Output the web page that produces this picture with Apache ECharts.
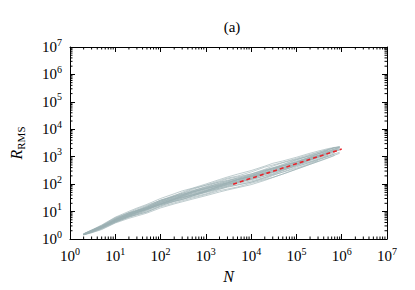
<!DOCTYPE html>
<html>
<head>
<meta charset="utf-8">
<script src="https://cdn.jsdelivr.net/npm/echarts@6/dist/echarts.min.js"></script>
<style>html,body{margin:0;padding:0;background:#fff;}#c{width:415px;height:290px;}</style>
</head>
<body>
<div id="c"></div>
<script>
// Step counts N (x) shared by all traces
const N = [2,3,5,10,20,30,50,100,200,300,500,1e3,2e3,3e3,5e3,1e4,2e4,3e4,5e4,1e5,2e5,3e5,5e5,7e5,9e5];
// R_RMS traces
const trace1 = [1.51,2.01,2.96,5.51,9.11,11.3,15.8,26,38.9,46.2,64,91.5,134,166,198,278,417,498,622,871,1220,1450,1845,2140,2311];
const trace2 = [1.45,1.81,2.42,4.07,6.22,7.64,9.83,15.0,20.7,24.9,31.1,41.6,57.9,66.3,79.2,108,147,175,233,354,528,680,923,1141,1334];
const trace3 = [1.48,1.95,2.82,4.79,7.21,9.55,13.2,22.0,30.2,40.8,54.8,78.9,107,123,145,183,245,287,350,534,813,1050,1450,1712,1956];
const trace4 = [1.49,1.87,2.58,5.03,8.35,10.7,13.6,20.0,27.4,32.0,40.2,58.1,84.6,107,139,200,306,393,525,787,1057,1250,1582,1934,2223];
const trace5 = [1.47,1.91,2.77,4.41,6.68,8.60,12.0,18.0,24.5,31.2,42.0,53.6,71.3,83.5,106,131,176,227,311,478,732,880,1120,1427];
const trace6 = [1.52,2.02,3.01,5.75,8.73,10.5,14.5,24.0,36.0,46.2,58.5,75.7,102,128,172,235,319,378,467,646,976,1250,1713];
const trace7 = [1.44,1.78,2.47,4.55,7.59,9.36,11.6,17.6,26.5,34.8,46.6,63.1,93.6,118,152,191,257,332,447,618,854,1000,1252,1553,1778];
const trace8 = [1.48,1.93,2.64,5.17,7.97,9.74,12.6,21.0,32.3,38.3,46.6,59.9,80.2,91.0,116,148,201,257,350,495,667,800,1028,1268];
const trace9 = [1.51,1.91,2.56,4.22,6.98,9.26,12.9,19.4,25.9,30.2,37.5,49.2,66.8,77.0,92.4,118,172,217,272,382,569,720];
const trace10 = [1.45,1.97,2.88,5.27,7.97,10.3,14.5,23.6,31.7,37.3,50.3,72.6,111,139,165,209,282,362,506,759,1138,1420,1819,2092,2276];
const trace11 = [1.48,1.85,2.53,4.31,7.13,9.36,12.1,18.4,27.4,35.5,43.4,56.8,78.4,98.4,125,174,265,317,389,534,748,950,1318,1617];
const trace12 = [1.49,1.99,2.69,4.89,8.35,11.0,14.1,22.0,34.0,43.3,52.6,68.1,98.0,112,129,165,225,272,370,562,878,1120,1516,1870,2134];
const trace13 = [1.47,1.83,2.69,4.65,6.83,8.21,10.6,16.4,23.0,27.7,36.6,51.7,71.3,87.7,112,157,225,287,381,562,797,950,1186];
const trace14 = [1.48,1.97,2.85,4.79,7.74,10.1,12.9,19.6,28.8,36.9,49.4,70.7,96.2,111,145,195,289,368,459,629,894,1120,1516,1775,1920];
const trace15 = [1.55,2.14,3.23,6.23,10.2,13.4,18.3,30,44.6,56.8,70.8,101,147,182,231,313,453,574,700,955,1341,1600,1977,2187,2311];
const trace16 = [1.41,1.68,2.21,3.83,5.69,6.88,8.82,13.6,19.0,22.7,28.3,37.9,51.7,61.0,73.9,95.7,137,175,233,348,528,660,896,1110];
const trace17 = [1.52,2.06,3.09,5.99,9.26,12.4,17.0,25.6,34.6,40.8,55.8,82.0,123,155,185,235,348,453,603,815,1098,1300,1648,1902,2169];
const trace18 = [1.44,1.72,2.29,3.98,6.53,7.64,9.58,16.0,24.2,27.7,33.8,44.2,64.2,81.3,95.0,118,159,205,280,422,634,800,1081];
const trace19 = [1.48,2.01,2.64,5.36,8.96,10.5,12.9,19.0,28.2,38.3,52.6,69.4,89.1,98.4,116,160,245,332,467,703,959,1100,1384,1585,1742];
const trace20 = [1.51,1.85,2.80,4.45,7.44,10.0,14.1,24,37.4,50.4,68.6,91.5,120,134,158,223,331,393,475,646,911,1080,1384];
const trace21 = [1.45,1.91,2.47,4.22,6.22,8.12,11.3,19,29.4,33.7,40.2,51.7,76.6,96.3,129,183,240,272,331,450,618,750,1028,1268,1458];
const trace22 = [1.49,2.02,2.96,5.17,7.74,9.17,12.6,21.6,29.4,32.7,39.3,56.8,87.3,112,148,209,306,356,408,551,772,980,1344,1664];
const trace23 = [1.42,1.76,2.56,4.89,8.20,11.0,15.4,26,36,41.9,51.2,66.3,89.1,109,143,191,257,302,408,629,976,1280,1779,2187];
const trace24 = [1.54,2.10,2.82,4.60,6.83,8.88,12.3,18,23.6,27.7,36.6,54.3,82.0,103,119,146,196,236,319,495,772,1000,1384];
const traces = [trace1,trace2,trace3,trace4,trace5,trace6,trace7,trace8,trace9,trace10,trace11,trace12,
  trace13,trace14,trace15,trace16,trace17,trace18,trace19,trace20,trace21,trace22,trace23,trace24];
// Power-law fit (red dashed)
const fitN = [4000, 1000000];
const fitR = [100, 1900];
// Axis tick values
const minorTicks = [];
for (let d = 0; d < 7; d++) for (let k = 2; k <= 9; k++) minorTicks.push(k * Math.pow(10, d));

const serif = '"Liberation Serif","DejaVu Serif",serif';
const labelRich = {
  b: {fontFamily: serif, fontSize: 15, color: '#000', lineHeight: 20},
  e: {fontFamily: serif, fontSize: 10, color: '#000', verticalAlign: 'top', lineHeight: 12}
};
const fmt = v => '{b|10}{e|' + Math.round(Math.log10(v)) + '}';

const series = traces.map(t => ({
  type: 'line', showSymbol: false, silent: true, animation: false,
  data: t.map((r, i) => [N[i], r]),
  lineStyle: {color: '#9ab0b3', width: 0.9, opacity: 0.7}, z: 2
}));
series.push({
  type: 'line', showSymbol: false, silent: true, animation: false,
  data: fitN.map((n, i) => [n, fitR[i]]),
  lineStyle: {color: '#e8232b', width: 1.6, type: [4, 3]}, z: 5
});
const tickLen = 2.5;
series.push({
  type: 'custom', silent: true, animation: false, z: 6,
  data: minorTicks.map(v => [v, 1]),
  renderItem: (params, api) => {
    const v = api.value(0);
    const b = api.coord([v, 1]);
    const t = api.coord([v, 1e7]);
    return {type: 'group', children: [
      {type: 'line', shape: {x1: b[0], y1: b[1], x2: b[0], y2: b[1] - tickLen}, style: {stroke: '#000', lineWidth: 1}},
      {type: 'line', shape: {x1: t[0], y1: t[1], x2: t[0], y2: t[1] + tickLen}, style: {stroke: '#000', lineWidth: 1}}
    ]};
  }
});
series.push({
  type: 'custom', silent: true, animation: false, z: 6,
  data: minorTicks.map(v => [1, v]),
  renderItem: (params, api) => {
    const v = api.value(1);
    const l = api.coord([1, v]);
    const r = api.coord([1e7, v]);
    return {type: 'group', children: [
      {type: 'line', shape: {x1: l[0], y1: l[1], x2: l[0] + tickLen, y2: l[1]}, style: {stroke: '#000', lineWidth: 1}},
      {type: 'line', shape: {x1: r[0], y1: r[1], x2: r[0] - tickLen, y2: r[1]}, style: {stroke: '#000', lineWidth: 1}}
    ]};
  }
});

const baseAxis = {
  type: 'log', logBase: 10, min: 1, max: 1e7, splitNumber: 7,
  splitLine: {show: false},
  axisLine: {show: true, lineStyle: {color: '#000', width: 1}},
  axisTick: {show: true, inside: true, length: 5, lineStyle: {color: '#000'}}
};

const chart = echarts.init(document.getElementById('c'), null, {renderer: 'svg'});
chart.setOption({
  animation: false,
  backgroundColor: '#fff',
  grid: {left: 68, right: 28, top: 47, bottom: 51, show: false},
  title: {text: '(a)', left: 227, top: 14, textAlign: 'center',
    textStyle: {fontFamily: serif, fontSize: 15, fontWeight: 'normal', color: '#000'}},
  xAxis: [
    Object.assign({}, baseAxis, {position: 'bottom',
      name: 'N', nameLocation: 'middle', nameGap: 27,
      nameTextStyle: {fontFamily: serif, fontSize: 16, fontStyle: 'italic', color: '#000'},
      axisLabel: {formatter: fmt, rich: labelRich, margin: 7, showMinLabel: true, showMaxLabel: true}}),
    Object.assign({}, baseAxis, {position: 'top', axisLabel: {show: false}})
  ],
  yAxis: [
    Object.assign({}, baseAxis, {position: 'left',
      name: '{r|R}{s|RMS}', nameLocation: 'middle', nameGap: 44, nameRotate: 90,
      nameTextStyle: {rich: {
        r: {fontFamily: serif, fontSize: 16, fontStyle: 'italic', color: '#000', lineHeight: 20},
        s: {fontFamily: serif, fontSize: 11, color: '#000', verticalAlign: 'bottom', lineHeight: 12}
      }},
      axisLabel: {formatter: fmt, rich: labelRich, margin: 8, showMinLabel: true, showMaxLabel: true}}),
    Object.assign({}, baseAxis, {position: 'right', axisLabel: {show: false}})
  ],
  series: series
});
</script>
</body>
</html>
